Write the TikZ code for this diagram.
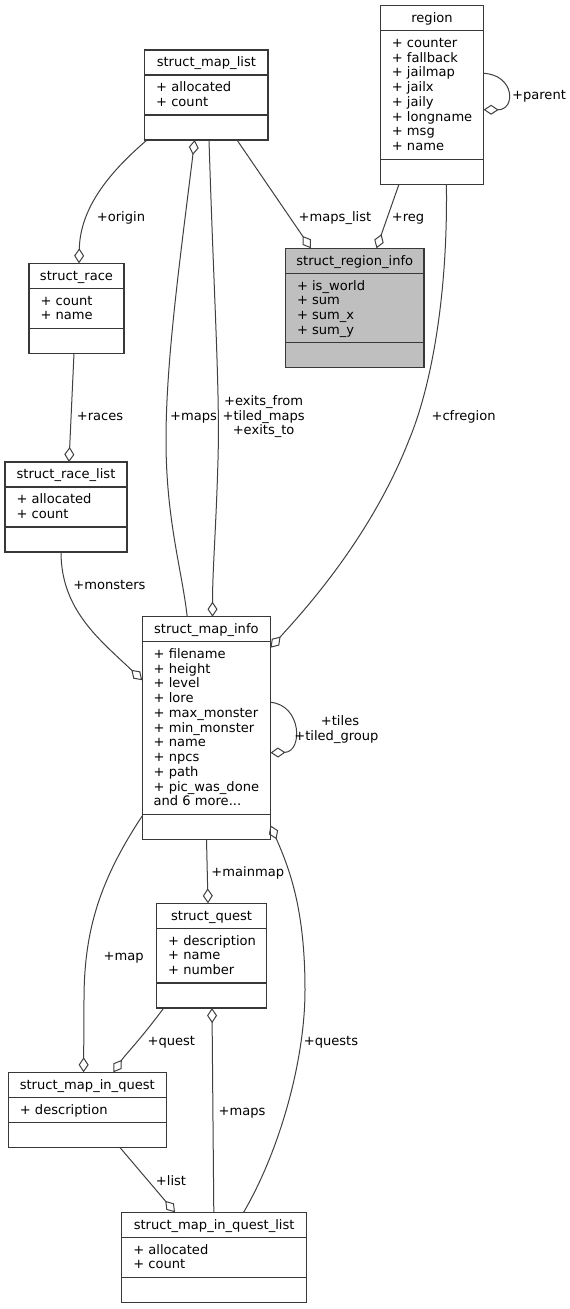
\documentclass[tikz,border=0pt]{standalone}
\usepackage{fontspec}
\setmainfont{DejaVu Sans}
\usetikzlibrary{arrows.meta,calc}
\definecolor{edgecol}{RGB}{64,64,64}
\definecolor{boxcol}{RGB}{56,56,56}
\definecolor{hlfill}{RGB}{191,191,191}
\newcommand\umlclass[8]{%
  \pgfmathsetmacro\secH{10.5+14.75*#5}%
  \pgfmathsetmacro\totH{(50+\secH)*0.75}%
  \pgfmathsetmacro\totW{#4*0.75}%
  \node[classbox,fill=#8,minimum width=\totW pt,minimum height=\totH pt,anchor=north west] (#1) at (#2,#3) {};
  \draw[classline] ($(#1.north west)+(0,25)$) -- ($(#1.north east)+(0,25)$);
  \draw[classline] ($(#1.south west)+(0,-25)$) -- ($(#1.south east)+(0,-25)$);
  \node[txt,anchor=base] (#1-t) at ($(#1.north)+(0,16.7)$) {#6};
  \foreach \a [count=\i] in {#7} {
    \node[txt,anchor=base west] (#1-a\i) at ($(#1.north west)+(11.5,{41.7+14.75*(\i-1)})$) {\a};
  }
}
\tikzset{
  txt/.style={inner sep=0pt,outer sep=0pt,font=\fontsize{9.8pt}{11pt}\selectfont},
  lbl/.style={txt,anchor=base},
  classbox/.style={draw=boxcol,line width=1pt,rectangle,inner sep=0pt,outer sep=0pt},
  classline/.style={draw=boxcol,line width=1pt},
  edgeline/.style={draw=edgecol,line width=0.75pt},
  aggr/.style={edgeline,-{Diamond[open,length=11.25pt,width=7.5pt]}}
}
\begin{document}
\begin{tikzpicture}[x=0.75pt,y=-0.75pt]
\useasboundingbox (0,0) rectangle (569,1309);
\fill[white] (0,0) rectangle (569,1309);

\umlclass{maplist}{144.7}{50}{123.3}{2}{struct\_map\_list}{+ allocated,+ count}{white}
\umlclass{region}{380.4}{5.7}{103.2}{8}{region}{+ counter,+ fallback,+ jailmap,+ jailx,+ jaily,+ longname,+ msg,+ name}{white}
\umlclass{regioninfo}{285.5}{248.3}{138.5}{4}{struct\_region\_info}{+ is\_world,+ sum,+ sum\_x,+ sum\_y}{hlfill}
\umlclass{race}{29}{263.3}{95}{2}{struct\_race}{+ count,+ name}{white}
\umlclass{racelist}{5}{462}{122}{2}{struct\_race\_list}{+ allocated,+ count}{white}
\umlclass{mapinfo}{142.2}{616.7}{128.3}{11}{struct\_map\_info}{+ filename,+ height,+ level,+ lore,+ max\_monster,+ min\_monster,+ name,+ npcs,+ path,+ pic\_was\_done,and 6 more.{}.{}.}{white}
\umlclass{quest}{156.7}{903.3}{109.8}{3}{struct\_quest}{+ description,+ name,+ number}{white}
\umlclass{mapinquest}{8.4}{1072.3}{157.8}{1}{struct\_map\_in\_quest}{+ description}{white}
\umlclass{mqlist}{121.8}{1212.3}{184.7}{2}{struct\_map\_in\_quest\_list}{+ allocated,+ count}{white}

% connectors
\draw[aggr] ($(maplist.south west)+(2.3,0)$) .. controls (100,180) and (80,215) .. ($(race.north west)+(50,0)$);
\draw[aggr] ($(race.south west)+(45,0)$) -- ($(racelist.north west)+(64,0)$);
\draw[aggr] ($(mapinfo.north west)+(45,0)$) .. controls (182,570) and (166,520) .. (166,440) .. controls (166,360) and (180,260) .. ($(maplist.south west)+(50,0)$);
\draw[aggr] ($(maplist.south west)+(64.3,0)$) .. controls (214,300) and (220,390) .. (218,460) .. controls (216,530) and (212.5,570) .. ($(mapinfo.north west)+(70.3,0)$);
\draw[aggr] ($(region.south west)+(66,0)$) .. controls (448,300) and (430,390) .. (409,440) .. controls (370,540) and (300,615) .. ($(mapinfo.north east)+(0,31)$);
\draw[aggr] ($(maplist.south west)+(92.3,0)$) -- ($(regioninfo.north west)+(25.5,0)$);
\draw[aggr] ($(region.south west)+(18.6,0)$) -- ($(regioninfo.north west)+(91,0)$);
\draw[aggr] ($(region.north east)+(0,67.6)$) .. controls (515,75) and (516,110) .. ($(region.north east)+(0,104)$);
\draw[aggr] ($(racelist.south west)+(56,0)$) .. controls (61,610) and (100,640) .. ($(mapinfo.north west)+(0,63.5)$);
\draw[aggr] ($(mapinfo.north east)+(0,85.6)$) .. controls (302,705) and (303,752) .. ($(mapinfo.north east)+(0,136)$);
\draw[aggr] ($(mapinfo.south west)+(64.3,0)$) -- ($(quest.north west)+(51.3,0)$);
\draw[aggr] ($(mapinfo.south west)+(0,-23.5)$) .. controls (100,880) and (84,930) .. (84,1000) -- ($(mapinquest.north west)+(75.2,0)$);
\draw[aggr] ($(quest.south west)+(7,0)$) .. controls (140,1040) and (125,1055) .. ($(mapinquest.north west)+(105,0)$);
\draw[aggr] ($(mqlist.north west)+(92,0)$) -- ($(quest.south west)+(55.3,0)$);
\draw[aggr] ($(mapinquest.south west)+(111.6,0)$) -- ($(mqlist.north west)+(53.2,0)$);
\draw[aggr] ($(mqlist.north west)+(121.8,0)$) .. controls (280,1150) and (305,1060) .. (305,990) .. controls (305,910) and (290,870) .. ($(mapinfo.south east)+(0,-14)$);

% labels
\node[lbl] (l-origin) at (121,221) {+origin};
\node[lbl] (l-races) at (100,420) {+races};
\node[lbl] (l-maps1) at (193.6,420) {+maps};
\node[lbl] (l-ex1) at (263.6,405) {+exits\_from};
\node[lbl] (l-ex2) at (263.6,420) {+tiled\_maps};
\node[lbl] (l-ex3) at (263.6,434.5) {+exits\_to};
\node[lbl] (l-mapslist) at (335,221) {+maps\_list};
\node[lbl] (l-reg) at (408,221) {+reg};
\node[lbl] (l-parent) at (539,100) {+parent};
\node[lbl] (l-cfregion) at (463.6,420) {+cfregion};
\node[lbl] (l-monsters) at (109.5,589) {+monsters};
\node[lbl] (l-tiles) at (340,725) {+tiles};
\node[lbl] (l-tiledgroup) at (336.4,740) {+tiled\_group};
\node[lbl] (l-mainmap) at (247.8,876) {+mainmap};
\node[lbl] (l-map) at (123.6,960) {+map};
\node[lbl] (l-quest) at (171.3,1045) {+quest};
\node[lbl] (l-quests) at (331,1045) {+quests};
\node[lbl] (l-maps2) at (242,1115) {+maps};
\node[lbl] (l-list) at (171,1185) {+list};
\end{tikzpicture}
\end{document}
